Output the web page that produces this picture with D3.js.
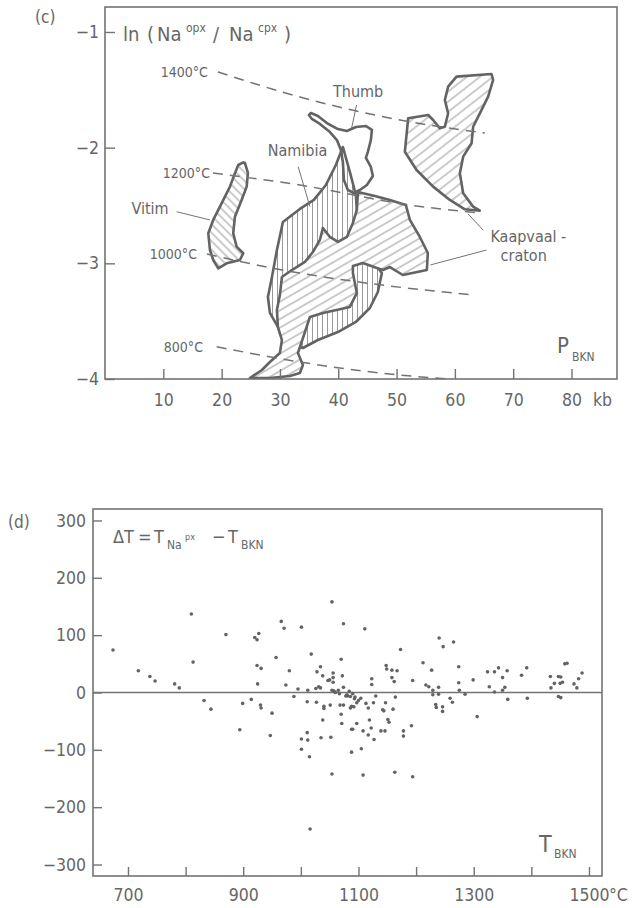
<!DOCTYPE html>
<html><head><meta charset="utf-8">
<script src="https://cdn.jsdelivr.net/npm/d3@7"></script>
<style>
html,body{margin:0;padding:0;background:#fff;}
svg{display:block;background:#fff;}
text{font-family:"DejaVu Sans Condensed","DejaVu Sans",sans-serif;fill:#666;}
</style></head><body>
<svg id="chart" width="634" height="908"></svg>
<script>
// ---------- Panel (c): fields in P(kb) vs ln(Na_opx/Na_cpx) ----------
const cTicksX = [10, 20, 30, 40, 50, 60, 70, 80];
const cTicksY = [-1, -2, -3, -4];
const vitim = [[24.0,-2.133],[24.51,-2.219],[24.29,-2.337],[23.43,-2.452],[22.28,-2.597],[21.99,-2.740],[22.57,-2.856],[23.71,-2.913],[23.14,-2.971],[20.86,-3.0],[19.42,-3.043],[18.56,-2.971],[18.0,-2.885],[17.71,-2.740],[18.56,-2.625],[19.71,-2.510],[21.43,-2.337],[22.28,-2.221],[22.85,-2.150],[23.71,-2.127]];
const kaapvaalHigh = [[60.28,-1.386],[66.28,-1.363],[66.56,-1.415],[65.70,-1.559],[64.28,-1.703],[63.13,-1.819],[62.86,-1.962],[61.42,-2.078],[60.85,-2.222],[61.42,-2.394],[63.13,-2.510],[64.28,-2.545],[61.71,-2.533],[59.14,-2.452],[56.27,-2.337],[53.43,-2.193],[51.42,-2.035],[51.99,-1.746],[55.42,-1.718],[56.27,-1.761],[57.42,-1.833],[58.28,-1.819],[58.84,-1.703],[58.28,-1.588],[58.84,-1.473]];
const namibia = [[40.79,-1.994],[39.59,-2.150],[37.88,-2.323],[35.82,-2.452],[33.42,-2.530],[30.51,-2.643],[29.48,-2.885],[28.63,-3.118],[27.94,-3.291],[28.28,-3.429],[29.65,-3.550],[30.68,-3.689],[33.94,-3.732],[36.51,-3.663],[39.94,-3.594],[43.02,-3.507],[45.42,-3.386],[46.79,-3.248],[47.48,-3.084],[46.28,-3.006],[44.22,-2.980],[43.19,-2.841],[43.19,-2.539],[43.02,-2.409],[41.99,-2.210],[41.31,-2.089]];
const kaapvaal = [[24.85,-3.991],[26.91,-3.922],[28.28,-3.853],[29.99,-3.775],[30.34,-3.663],[29.65,-3.550],[29.48,-3.403],[29.99,-3.274],[30.34,-3.118],[32.05,-3.058],[34.28,-2.988],[35.65,-2.902],[36.85,-2.798],[37.37,-2.694],[38.57,-2.772],[39.94,-2.815],[41.48,-2.772],[42.51,-2.651],[43.19,-2.539],[43.37,-2.383],[46.28,-2.418],[48.85,-2.452],[51.59,-2.496],[52.28,-2.625],[53.99,-2.772],[55.36,-2.911],[55.19,-3.058],[51.08,-3.101],[48.85,-3.032],[47.65,-3.058],[46.62,-3.040],[44.22,-2.997],[42.51,-3.023],[42.51,-3.084],[43.19,-3.256],[41.99,-3.377],[37.37,-3.429],[35.14,-3.464],[33.94,-3.646],[33.08,-3.775],[33.94,-3.879],[33.42,-3.948],[31.71,-3.974],[28.28,-3.991]];
const thumb = [[35.31,-1.700],[36.51,-1.726],[38.05,-1.787],[39.94,-1.839],[41.48,-1.856],[43.02,-1.821],[44.74,-1.813],[45.77,-1.847],[45.59,-1.934],[45.08,-2.037],[44.74,-2.089],[45.59,-2.167],[45.94,-2.245],[44.91,-2.323],[43.71,-2.366],[42.68,-2.392],[41.65,-2.366],[40.97,-2.280],[40.79,-2.124],[40.45,-2.020],[39.77,-1.934],[38.57,-1.865],[36.85,-1.795],[35.48,-1.752],[34.96,-1.718]];
const isoTemps = ["1400°C", "1200°C", "1000°C", "800°C"];
const iso1400 = [[19.37,-1.346],[33.42,-1.562],[50.57,-1.761],[65.13,-1.873]];
const iso1200 = [[18.51,-2.219],[33.42,-2.323],[52.28,-2.496],[64.28,-2.565]];
const iso1000 = [[17.48,-2.919],[28.85,-3.043],[43.14,-3.159],[63.25,-3.274]];
const iso800  = [[19.15,-3.721],[33.42,-3.853],[47.14,-3.948],[58.79,-4.0]];
const isoLabelPos = [[17.65,-1.389],[18.0,-2.262],[15.77,-2.962],[16.8,-3.767]];
const fieldLabels = ["Thumb", "Namibia", "Vitim", "Kaapvaal -", "craton"];
const fieldLabelPos = [[43.4,-1.56],[33.0,-2.07],[10.9,-2.57],[72.6,-2.816],[71.8,-2.98]];
const leaders = [
  [[43.14,-1.631],[42.28,-1.833]],
  [[33.13,-2.165],[35.14,-2.510]],
  [[12.29,-2.554],[18.0,-2.625]],
  [[64.84,-2.712],[62.3,-2.575]],
  [[65.42,-2.885],[55.8,-3.014]]
];

// ---------- Panel (d): ΔT vs T_BKN ----------
const dTicksX = [700, 800, 900, 1000, 1100, 1200, 1300, 1400, 1500];
const dLabelsX = [700, 900, 1100, 1300, 1500];
const dTicksY = [300, 200, 100, 0, -100, -200, -300];
const tBKN = [674,718,738,747,781,789,810,813,832,844,870,894,899,914,920,924,927,924,931,925,930,931,950,947,957,966,971,974,980,988,995,1001,1001,1011,1012,1001,1015,1016,1011,1012,1018,1026,1027,1028,1034,1031,1034,1038,1035,1038,1040,1040,1047,1050,1051,1052,1054,1054,1054,1056,1056,1056,1057,1060,1059,1065,1068,1070,1070,1071,1072,1074,1067,1074,1078,1080,1074,1086,1088,1088,1086,1111,1105,1108,1163,1194,1173,1148,1149,1158,1167,1123,1123,1158,1162,1194,1212,1227,1217,1222,1229,1229,1239,1239,1234,1235,1246,1246,1240,1247,1265,1274,1274,1275,1259,1263,1285,1299,1306,1324,1327,1336,1336,1343,1350,1350,1354,1358,1359,1383,1392,1393,1433,1434,1440,1447,1451,1450,1454,1458,1462,1447,1451,1474,1479,1482,1488,1081,1093,1104,1088,1097,1113,1126,1130,1117,1092,1142,1144,1147,1160,1164,1151,1153,1119,1122,1097,1090,1108,1117,1127,1139,1146,1178,1178,1192,1094,1100,1084,1090];
const deltaT = [74,38,28,20,15,8,137,53,-14,-29,101,-65,-19,-12,96,92,103,47,42,15,-22,-27,-36,-75,61,124,112,13,38,-7,6,114,-81,-70,-83,-99,-112,-238,-16,4,67,7,-17,36,45,10,8,29,-79,-48,-28,-24,21,22,-22,-78,-142,158,4,34,26,18,3,0,1,4,-22,58,-38,-54,29,120,-2,9,-6,-4,-22,-7,-64,-104,-27,111,-98,-144,-139,-147,75,47,41,39,38,24,14,26,19,21,52,39,13,10,4,-4,9,-3,-21,-26,-25,-33,95,80,88,45,17,4,-10,-17,-3,22,-42,36,10,36,1,43,26,4,9,38,-12,30,43,-10,28,8,16,28,27,16,18,50,51,-7,-9,15,8,24,34,-6,-11,-10,-24,-18,-19,-18,-6,-27,-25,-30,-32,-18,-29,-8,-47,-52,-48,-62,-54,-64,-67,-74,-82,-67,-67,-67,-76,-58,-8,-14,2,-2];

// ---------- drawing ----------
const svg = d3.select("#chart");
const INK = "#636363", AX = "#737373", HATCH = "#8c8c8c";
const FONT = '"DejaVu Sans Condensed","DejaVu Sans",sans-serif';

const xc = d3.scaleLinear().domain([0, 87.8]).range([105, 617]);
const yc = d3.scaleLinear().domain([-4, -0.784]).range([379, 7]);
const xd = d3.scaleLinear().domain([639.3, 1522.6]).range([93, 602]);
const yd = d3.scaleLinear().domain([-320, 320]).range([876, 509]);

const defs = svg.append("defs");
function hatch(id, spacing, angle, sw) {
  const p = defs.append("pattern").attr("id", id).attr("patternUnits", "userSpaceOnUse")
    .attr("width", spacing).attr("height", spacing).attr("patternTransform", `rotate(${angle})`);
  p.append("line").attr("x1", spacing / 2).attr("y1", -1).attr("x2", spacing / 2).attr("y2", spacing + 1)
    .attr("stroke", HATCH).attr("stroke-width", sw);
}
hatch("hVitim", 6, -45, 0.9);
hatch("hKaap", 7.5, 60, 0.9);
hatch("hRight", 8, 52, 0.9);
hatch("hNam", 5, 0, 0.9);
defs.append("clipPath").attr("id", "clipC").append("rect").attr("x", 105).attr("y", 7).attr("width", 512).attr("height", 372);

const poly = d3.line().x(d => xc(d[0])).y(d => yc(d[1])).curve(d3.curveLinearClosed);
const gC = svg.append("g").attr("clip-path", "url(#clipC)");
function field(data, pat, whiteUnder) {
  if (whiteUnder) gC.append("path").attr("d", poly(data)).attr("fill", "#fff");
  if (pat) gC.append("path").attr("d", poly(data)).attr("fill", `url(#${pat})`);
  gC.append("path").attr("d", poly(data)).attr("fill", "none").attr("stroke", INK)
    .attr("stroke-width", 2.6).attr("stroke-linejoin", "round");
}
field(vitim, "hVitim", true);
field(kaapvaalHigh, "hRight", true);
field(namibia, "hNam", true);
field(kaapvaal, "hKaap", true);
field(thumb, null, false);

// isotherms
const isoLine = d3.line().x(d => xc(d[0])).y(d => yc(d[1])).curve(d3.curveMonotoneX);
[iso1400, iso1200, iso1000, iso800].forEach(arr => {
  gC.append("path").attr("d", isoLine(arr)).attr("fill", "none").attr("stroke", AX)
    .attr("stroke-width", 1.5).attr("stroke-dasharray", "10,7");
});
isoTemps.forEach((t, i) => {
  svg.append("text").attr("x", xc(isoLabelPos[i][0])).attr("y", yc(isoLabelPos[i][1]))
    .attr("text-anchor", "end").style("font-size", "14px").text(t);
});
// leaders
leaders.forEach(l => {
  svg.append("line").attr("x1", xc(l[0][0])).attr("y1", yc(l[0][1])).attr("x2", xc(l[1][0])).attr("y2", yc(l[1][1]))
    .attr("stroke", AX).attr("stroke-width", 1);
});
const anchors = ["middle", "middle", "end", "middle", "middle"];
fieldLabels.forEach((t, i) => {
  svg.append("text").attr("x", xc(fieldLabelPos[i][0])).attr("y", yc(fieldLabelPos[i][1]))
    .attr("text-anchor", anchors[i]).style("font-size", "16px").text(t);
});

// frame (c)
svg.append("rect").attr("x", 105).attr("y", 7).attr("width", 512).attr("height", 372)
  .attr("fill", "none").attr("stroke", AX).attr("stroke-width", 1.6);

function styleAxis(g, fs) {
  g.select(".domain").remove();
  g.selectAll(".tick line").attr("stroke", AX).attr("stroke-width", 1.4);
  g.selectAll(".tick text").attr("fill", "#666").style("font-size", fs).style("font-family", FONT);
}
const gxc = svg.append("g").attr("transform", "translate(0,379)")
  .call(d3.axisBottom(xc).tickValues(cTicksX).tickSize(-10).tickPadding(15).tickFormat(d3.format("d")));
styleAxis(gxc, "17.5px");
const gyc = svg.append("g").attr("transform", "translate(105,0)")
  .call(d3.axisLeft(yc).tickValues(cTicksY).tickSize(-10).tickPadding(6).tickFormat(d => "−" + Math.abs(d)));
styleAxis(gyc, "17.5px");
svg.append("text").attr("x", 593).attr("y", 406).style("font-size", "17.5px").text("kb");

// panel (c) texts
svg.append("text").attr("x", 35).attr("y", 23).style("font-size", "17px").text("(c)");
const ylab = svg.append("text").attr("y", 41).style("font-size", "20px");
ylab.append("tspan").attr("x", 123).text("ln");
ylab.append("tspan").attr("x", 147).text("(");
ylab.append("tspan").attr("x", 157).text("Na");
ylab.append("tspan").attr("x", 186).attr("dy", -9).style("font-size", "12px").text("opx");
ylab.append("tspan").attr("x", 213).attr("dy", 9).text("/");
ylab.append("tspan").attr("x", 229).text("Na");
ylab.append("tspan").attr("x", 258).attr("dy", -9).style("font-size", "12px").text("cpx");
ylab.append("tspan").attr("x", 284).attr("dy", 9).text(")");
const plab = svg.append("text").attr("y", 353).style("font-size", "22px");
plab.append("tspan").attr("x", 557).text("P");
plab.append("tspan").attr("x", 572).attr("dy", 8).style("font-size", "12px").text("BKN");

// ---------- Panel (d) ----------
svg.append("line").attr("x1", 93).attr("x2", 602).attr("y1", yd(0)).attr("y2", yd(0))
  .attr("stroke", AX).attr("stroke-width", 1.3);
svg.append("g").selectAll("circle").data(tBKN.map((t, i) => [t, deltaT[i]])).join("circle")
  .attr("cx", d => xd(d[0])).attr("cy", d => yd(d[1])).attr("r", 1.8).attr("fill", INK);
svg.append("rect").attr("x", 93).attr("y", 509).attr("width", 509).attr("height", 367)
  .attr("fill", "none").attr("stroke", AX).attr("stroke-width", 1.6);
const gxd = svg.append("g").attr("transform", "translate(0,876)")
  .call(d3.axisBottom(xd).tickValues(dTicksX).tickSize(-9).tickPadding(13)
    .tickFormat(d => dLabelsX.includes(d) ? String(d) : ""));
styleAxis(gxd, "17.5px");
const gyd = svg.append("g").attr("transform", "translate(93,0)")
  .call(d3.axisLeft(yd).tickValues(dTicksY).tickSize(-9).tickPadding(7)
    .tickFormat(d => d < 0 ? "−" + Math.abs(d) : String(d)));
styleAxis(gyd, "17.5px");
svg.append("text").attr("x", 609).attr("y", 901).style("font-size", "17.5px").text("°C");
svg.append("text").attr("x", 8).attr("y", 528).style("font-size", "17px").text("(d)");
const dlab = svg.append("text").attr("y", 543).style("font-size", "18px");
dlab.append("tspan").attr("x", 113).text("ΔT");
dlab.append("tspan").attr("x", 138).text("=");
dlab.append("tspan").attr("x", 154).text("T");
dlab.append("tspan").attr("x", 167).attr("dy", 6).style("font-size", "12px").text("Na");
dlab.append("tspan").attr("x", 185).attr("dy", -9).style("font-size", "9px").text("px");
dlab.append("tspan").attr("x", 212).attr("dy", 3).text("−");
dlab.append("tspan").attr("x", 228).text("T");
dlab.append("tspan").attr("x", 241).attr("dy", 6).style("font-size", "12px").text("BKN");
const tlab = svg.append("text").attr("y", 852).style("font-size", "23px");
tlab.append("tspan").attr("x", 539).text("T");
tlab.append("tspan").attr("x", 554).attr("dy", 6).style("font-size", "12px").text("BKN");
</script>
</body></html>
